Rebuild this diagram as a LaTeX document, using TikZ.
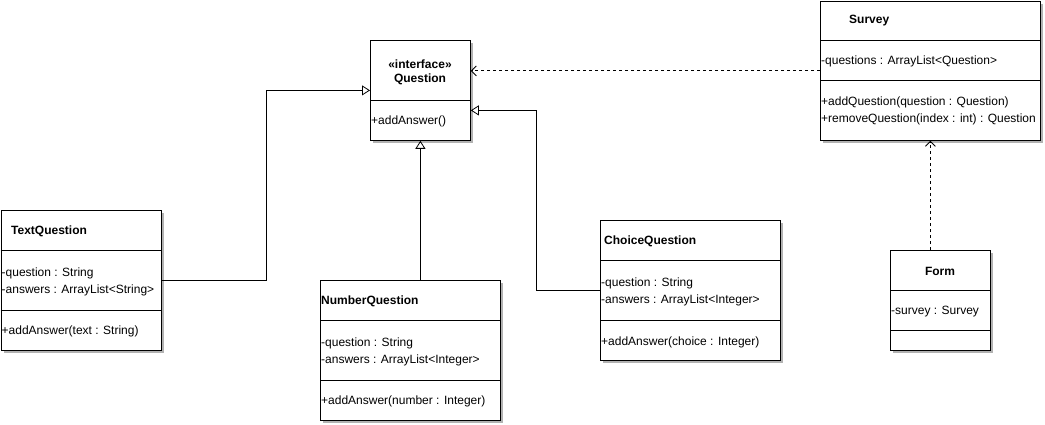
\documentclass[tikz,border=0pt]{standalone}
\usepackage{fontspec}
\setmainfont{Liberation Sans}
\usetikzlibrary{arrows.meta}
\usetikzlibrary{calc}
\usetikzlibrary{shadows}
\usetikzlibrary{positioning}

\tikzset{
    classbox/.style={draw, fill=white, line width=0.8pt, inner sep=0pt, anchor=north west,
        drop shadow={shadow xshift=3pt, shadow yshift=-3pt, fill=black!30, opacity=1}},
    member/.style={inner sep=0pt, anchor=west, align=left, font=\fontsize{12}{17}\selectfont},
    ctitle/.style={member, font=\fontsize{12}{14}\selectfont\bfseries},
    inherit/.style={line width=0.8pt, -{Triangle[open, length=8pt, width=10pt]}},
    depend/.style={line width=0.8pt, dash pattern=on 3pt off 3pt, -{Straight Barb[length=5pt, width=10pt]}},
}

\begin{document}
\begin{tikzpicture}[x=1pt, y=-1pt]
            \useasboundingbox (0,0) rectangle (1045,425);

            \foreach \n/\x/\y/\w/\h in {q/370/40/100/100, sv/820/1/220/139, tq/0.5/210/160/140, nq/320/280/180/140, cq/600/220/180/140, fm/890/250/100/100} {
                \node[classbox, minimum width=\w pt, minimum height=\h pt] (\n) at (\x,\y) {};
            }

            \foreach \n/\d in {q/60, sv/39, sv/79, tq/40, tq/100, nq/40, nq/100, cq/40, cq/100, fm/40, fm/80} {
                \draw[line width=0.8pt] ($(\n.north west)+(0,\d)$) -- ($(\n.north east)+(0,\d)$);
            }

            \node[ctitle, anchor=center, align=center] (q-name) at (420,72) {«interface»\\Question};
            \node[member] (q-ops) at (371,121) {+addAnswer()};

            \node[ctitle] (sv-name) at (849,21) {Survey};
            \node[member] (sv-attr) at (821,61) {-questions : ArrayList<Question>};
            \node[member] (sv-ops) at (821,111) {+addQuestion(question : Question)\\+removeQuestion(index : int) : Question};

            \node[ctitle] (tq-name) at (11,231) {TextQuestion};
            \node[member] (tq-attr) at (1.5,282) {-question : String\\-answers : ArrayList<String>};
            \node[member] (tq-ops) at (1.5,331) {+addAnswer(text : String)};

            \node[ctitle] (nq-name) at (321,301) {NumberQuestion};
            \node[member] (nq-attr) at (321,352) {-question : String\\-answers : ArrayList<Integer>};
            \node[member] (nq-ops) at (321,401) {+addAnswer(number : Integer)};

            \node[ctitle] (cq-name) at (604,241) {ChoiceQuestion};
            \node[member] (cq-attr) at (601,292) {-question : String\\-answers : ArrayList<Integer>};
            \node[member] (cq-ops) at (601,342) {+addAnswer(choice : Integer)};

            \node[ctitle, anchor=center] (fm-name) at (940,271) {Form};
            \node[member] (fm-attr) at (891,312) {-survey : Survey};

            \draw[inherit] (tq.east) -- ++(105,0) |- (q.west);
            \draw[inherit] (nq.north -| q.south) -- (q.south);
            \draw[inherit] (cq.west) -- ++(-64,0) |- ($(q.east)+(0,20)$);
            \draw[depend] (sv.west) -- (sv.west -| q.east);
            \draw[depend] (fm.north -| sv.south) -- (sv.south);
        \end{tikzpicture}
\end{document}
